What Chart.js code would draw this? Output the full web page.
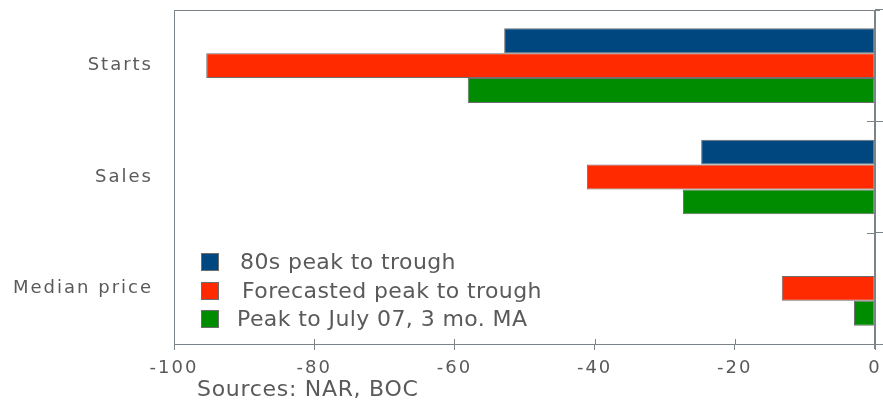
<!DOCTYPE html>
<html>
<head>
<meta charset="utf-8">
<script src="https://cdn.jsdelivr.net/npm/chart.js@4"></script>
<style>
  html, body { margin: 0; padding: 0; background: #fff; }
  #wrap { width: 883px; height: 404px; }
</style>
</head>
<body>
<div id="wrap"><canvas id="chart"></canvas></div>
<script>
// Data (% change)
const categories = ['Starts', 'Sales', 'Median price'];
const eightiesPeakToTrough = [-52.9, -24.8, null];
const forecastPeakToTrough = [-95.4, -41.1, -13.3];
const peakToJuly07 = [-58.1, -27.4, -3.0];
const xTicks = [-100, -80, -60, -40, -20, 0];

const axisColor = '#7b8489';
const textColor = '#5a5a5a';

// frame, inner tick halves, legend and source note
const extrasPlugin = {
  id: 'extras',
  beforeDraw(chart) {
    chart.ctx.letterSpacing = '2px';
  },
  afterDraw(chart) {
    const ctx = chart.ctx;
    const area = chart.chartArea;
    const x = chart.scales.x;
    ctx.save();
    ctx.letterSpacing = '0px';
    ctx.strokeStyle = axisColor;
    ctx.lineWidth = 1;

    // top frame line
    ctx.beginPath();
    ctx.moveTo(area.left, area.top + 0.5);
    ctx.lineTo(area.right + 5, area.top + 0.5);
    ctx.stroke();

    // zero line on the right
    const zx = Math.round(x.getPixelForValue(0));
    ctx.lineWidth = 2;
    ctx.beginPath();
    ctx.moveTo(zx, area.top);
    ctx.lineTo(zx, area.bottom + 5);
    ctx.stroke();
    ctx.lineWidth = 1;

    // tick halves inside the plot
    ctx.beginPath();
    xTicks.forEach(v => {
      const px = Math.round(x.getPixelForValue(v)) + 0.5;
      ctx.moveTo(px, area.bottom);
      ctx.lineTo(px, area.bottom - 5);
    });
    const bandH = (area.bottom - area.top) / categories.length;
    for (let i = 0; i <= categories.length; i++) {
      const py = Math.round(area.top + i * bandH) + 0.5;
      ctx.moveTo(zx, py);
      ctx.lineTo(zx - 8, py);
    }
    ctx.stroke();

    // legend
    ctx.font = '22px "DejaVu Sans", Verdana, sans-serif';
    ctx.letterSpacing = '0.4px';
    ctx.textBaseline = 'middle';
    ctx.textAlign = 'left';
    const textX = [240, 242, 237];
    const rowY = [262, 291, 319];
    chart.data.datasets.forEach((ds, i) => {
      ctx.fillStyle = ds.backgroundColor;
      ctx.fillRect(201, rowY[i] - 9, 18, 18);
      ctx.strokeStyle = '#6e6e6e';
      ctx.strokeRect(201.5, rowY[i] - 8.5, 17, 17);
      ctx.fillStyle = textColor;
      ctx.fillText(ds.label, textX[i], rowY[i] + 1);
    });

    // source note
    ctx.letterSpacing = '0.7px';
    ctx.fillStyle = textColor;
    ctx.fillText('Sources: NAR, BOC', 197, 390);
    ctx.restore();
  }
};

const barBase = {
  borderColor: '#6e6e6e',
  borderWidth: 1,
  borderSkipped: false,
  categoryPercentage: 0.67,
  barPercentage: 1.0
};

const noPad = s => {
  s.paddingTop = 0;
  s.paddingBottom = 0;
  s.paddingLeft = 0;
  s.paddingRight = 0;
};

new Chart(document.getElementById('chart').getContext('2d'), {
  type: 'bar',
  data: {
    labels: categories,
    datasets: [
      { ...barBase, label: '80s peak to trough', data: eightiesPeakToTrough, backgroundColor: '#00467f' },
      { ...barBase, label: 'Forecasted peak to trough', data: forecastPeakToTrough, backgroundColor: '#ff2a00' },
      { ...barBase, label: 'Peak to July 07, 3 mo. MA', data: peakToJuly07, backgroundColor: '#008c00' }
    ]
  },
  options: {
    indexAxis: 'y',
    responsive: true,
    maintainAspectRatio: false,
    animation: false,
    layout: { padding: { top: 10, left: 0, right: 0, bottom: 0 } },
    plugins: {
      legend: { display: false },
      tooltip: { enabled: false }
    },
    scales: {
      x: {
        type: 'linear',
        min: -100,
        max: 0,
        afterBuildTicks: s => { s.ticks = xTicks.map(v => ({ value: v })); },
        grid: { drawOnChartArea: false, tickLength: 6, color: axisColor },
        border: { color: axisColor },
        ticks: {
          color: textColor,
          padding: 8,
          font: { family: '"DejaVu Sans", Verdana, sans-serif', size: 18 }
        },
        afterFit: s => { noPad(s); s.height = 60; }
      },
      y: {
        position: 'left',
        grid: { drawOnChartArea: false, drawTicks: false },
        border: { color: axisColor },
        ticks: {
          color: textColor,
          padding: 21,
          font: { family: '"DejaVu Sans", Verdana, sans-serif', size: 18 }
        },
        afterFit: s => { noPad(s); s.width = 174; }
      },
      y2: {
        type: 'category',
        labels: categories,
        position: 'right',
        offset: true,
        grid: { offset: true, drawOnChartArea: false, tickLength: 8, color: axisColor },
        border: { display: false },
        ticks: { display: false },
        afterFit: s => { noPad(s); s.width = 8; }
      }
    }
  },
  plugins: [extrasPlugin]
});
</script>
</body>
</html>
